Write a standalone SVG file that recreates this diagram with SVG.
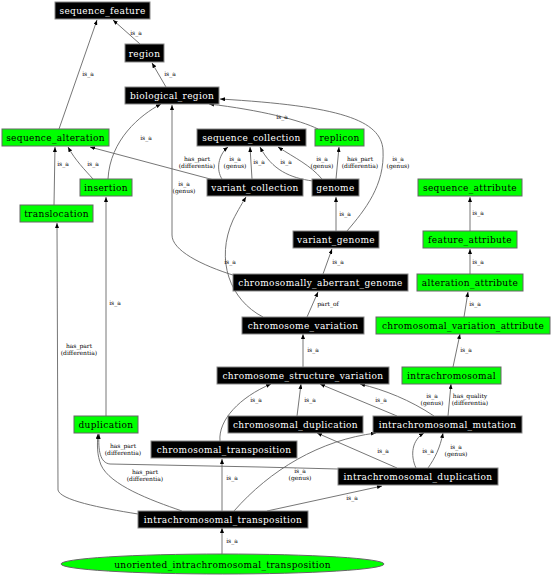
<svg xmlns="http://www.w3.org/2000/svg" width="552" height="576" viewBox="0 0 552 576">
<style>
.b rect{fill:#000;stroke:#888;stroke-width:1}
.g rect,.g ellipse{fill:#00ff00;stroke:#666;stroke-width:1}
.b text{fill:#fff}
.g text{fill:#000}
.n text{font-family:"DejaVu Serif",serif;font-size:9px;letter-spacing:0.35px;text-anchor:middle}
#edges path{fill:none;stroke:#666;stroke-width:0.9;marker-end:url(#a)}
#edges text{font-family:"DejaVu Serif",serif;font-size:6px;text-anchor:middle;fill:#000}
</style>
<defs>
<marker id="a" viewBox="0 0 5 4" refX="5" refY="2" markerWidth="5" markerHeight="4" orient="auto" markerUnits="userSpaceOnUse"><path d="M0,0 L5,2 L0,4z" fill="#000"/></marker>
</defs>
<rect width="552" height="576" fill="#fff"/>
<g id="edges">
<path d="M140,44 L113,20"/><text x="136" y="35">is_a</text>
<path d="M59,129 L97,20"/><text x="88" y="76">is_a</text>
<path d="M166,87 L152,63"/><text x="170" y="76">is_a</text>
<path d="M93,179 C85,170 75,160 68,147"/><text x="93" y="166">is_a</text>
<path d="M54,205 L55,147"/><text x="63" y="166">is_a</text>
<path d="M108,179 C110,140 140,115 161,104"/><text x="146" y="140">is_a</text>
<path d="M214,180 L90,147"/><text x="197" y="161">has_part</text><text x="197" y="168">(differentia)</text>
<path d="M222,179 C216,170 218,155 228,147"/><text x="235" y="161">is_a</text><text x="235" y="168">(genus)</text>
<path d="M252,179 L250,147"/><text x="259" y="164">is_a</text>
<path d="M313,181 C290,178 272,170 260,147"/><text x="286" y="164">is_a</text>
<path d="M322,179 C310,165 295,158 278,147"/><text x="322" y="161">is_a</text><text x="322" y="168">(genus)</text>
<path d="M336,179 L339,147"/><text x="360" y="161">has_part</text><text x="360" y="168">(differentia)</text>
<path d="M318,129 C300,120 260,110 209,104"/><text x="282" y="119">is_a</text>
<path d="M347,231 C365,210 385,185 383,150 C381,120 340,106 220,99"/><text x="398" y="161">is_a</text><text x="398" y="168">(genus)</text>
<path d="M336,231 L336,197"/><text x="345" y="216">is_a</text>
<path d="M323,274 L332,249"/><text x="338" y="264">is_a</text>
<path d="M236,276 C200,265 172,250 172,235 L172,105"/><text x="184" y="186">is_a</text><text x="184" y="193">(genus)</text>
<path d="M263,317 C230,300 215,260 233,220 C238,210 243,202 246,197"/><text x="230" y="264">is_a</text>
<path d="M307,317 L318,292"/><text x="328" y="306">part_of</text>
<path d="M303,367 L303,334"/><text x="313" y="352">is_a</text>
<path d="M470,231 L470,197"/><text x="478" y="215">is_a</text>
<path d="M470,274 L470,249"/><text x="478" y="264">is_a</text>
<path d="M464,317 L468,292"/><text x="475" y="306">is_a</text>
<path d="M453,367 L460,334"/><text x="466" y="352">is_a</text>
<path d="M448,416 L451,384"/><text x="470" y="398">has_quality</text><text x="470" y="405">(differentia)</text>
<path d="M434,416 C410,400 385,390 360,384"/><text x="432" y="398">is_a</text><text x="432" y="405">(genus)</text>
<path d="M397,416 L320,384"/><text x="381" y="402">is_a</text>
<path d="M297,416 L301,384"/><text x="310" y="402">is_a</text>
<path d="M220,441 C218,420 240,397 271,384"/><text x="256" y="402">is_a</text>
<path d="M106,416 L106,197"/><text x="115" y="305">is_a</text>
<path d="M397,468 L317,433"/><text x="383" y="453">is_a</text>
<path d="M416,468 C410,455 412,440 424,433"/><text x="428" y="453">is_a</text>
<path d="M428,468 C435,458 440,448 443,433"/><text x="456" y="449">is_a</text><text x="456" y="456">(genus)</text>
<path d="M338,469 L260,467 L110,464 C100,463 98,450 99,434"/><text x="123" y="448">has_part</text><text x="123" y="455">(differentia)</text>
<path d="M182,511 C150,500 110,485 101,465 C97,455 97,445 98,434"/><text x="145" y="474">has_part</text><text x="145" y="481">(differentia)</text>
<path d="M138,514 C100,508 60,500 58,490 L57,223"/><text x="79" y="348">has_part</text><text x="79" y="355">(differentia)</text>
<path d="M222,511 L222,459"/><text x="232" y="480">is_a</text>
<path d="M234,511 C270,470 320,440 376,433"/><text x="300" y="473">is_a</text><text x="300" y="480">(genus)</text>
<path d="M267,511 L382,486"/><text x="352" y="500">is_a</text>
<path d="M222,554 L222,528"/><text x="232" y="543">is_a</text>
</g>
<g id="sequence_feature" class="n b"><rect x="55" y="2" width="95" height="17"/><text x="102.5" y="14">sequence_feature</text></g>
<g id="region" class="n b"><rect x="125" y="44" width="39" height="18"/><text x="144.5" y="56.5">region</text></g>
<g id="biological_region" class="n b"><rect x="125" y="87" width="94" height="17"/><text x="172" y="99">biological_region</text></g>
<g id="sequence_alteration" class="n g"><rect x="2" y="129" width="107" height="17"/><text x="55.5" y="141">sequence_alteration</text></g>
<g id="sequence_collection" class="n b"><rect x="197" y="129" width="109" height="17"/><text x="251.5" y="141">sequence_collection</text></g>
<g id="replicon" class="n g"><rect x="315" y="129" width="49" height="17"/><text x="339.5" y="141">replicon</text></g>
<g id="insertion" class="n g"><rect x="80" y="179" width="52" height="17"/><text x="106" y="191">insertion</text></g>
<g id="variant_collection" class="n b"><rect x="207" y="179" width="96" height="17"/><text x="255" y="191">variant_collection</text></g>
<g id="genome" class="n b"><rect x="312" y="179" width="47" height="17"/><text x="335.5" y="191">genome</text></g>
<g id="sequence_attribute" class="n g"><rect x="418" y="179" width="104" height="17"/><text x="470" y="191">sequence_attribute</text></g>
<g id="translocation" class="n g"><rect x="20" y="205" width="73" height="17"/><text x="56.5" y="217">translocation</text></g>
<g id="variant_genome" class="n b"><rect x="293" y="231" width="86" height="17"/><text x="336" y="243">variant_genome</text></g>
<g id="feature_attribute" class="n g"><rect x="423" y="231" width="94" height="17"/><text x="470" y="243">feature_attribute</text></g>
<g id="chromosomally_aberrant_genome" class="n b"><rect x="233" y="274" width="175" height="17"/><text x="320.5" y="286">chromosomally_aberrant_genome</text></g>
<g id="alteration_attribute" class="n g"><rect x="417" y="274" width="106" height="17"/><text x="470" y="286">alteration_attribute</text></g>
<g id="chromosome_variation" class="n b"><rect x="242" y="317" width="122" height="17"/><text x="303" y="329">chromosome_variation</text></g>
<g id="chromosomal_variation_attribute" class="n g"><rect x="376" y="317" width="174" height="17"/><text x="463" y="329">chromosomal_variation_attribute</text></g>
<g id="chromosome_structure_variation" class="n b"><rect x="217" y="367" width="172" height="17"/><text x="303" y="379">chromosome_structure_variation</text></g>
<g id="intrachromosomal" class="n g"><rect x="402" y="367" width="99" height="17"/><text x="451.5" y="379">intrachromosomal</text></g>
<g id="duplication" class="n g"><rect x="74" y="416" width="64" height="17"/><text x="106" y="428">duplication</text></g>
<g id="chromosomal_duplication" class="n b"><rect x="228" y="416" width="135" height="17"/><text x="295.5" y="428">chromosomal_duplication</text></g>
<g id="intrachromosomal_mutation" class="n b"><rect x="373" y="416" width="149" height="17"/><text x="447.5" y="428">intrachromosomal_mutation</text></g>
<g id="chromosomal_transposition" class="n b"><rect x="151" y="441" width="146" height="17"/><text x="224" y="453">chromosomal_transposition</text></g>
<g id="intrachromosomal_duplication" class="n b"><rect x="338" y="468" width="160" height="17"/><text x="418" y="480">intrachromosomal_duplication</text></g>
<g id="intrachromosomal_transposition" class="n b"><rect x="138" y="511" width="170" height="17"/><text x="223" y="523">intrachromosomal_transposition</text></g>
<g id="unoriented_intrachromosomal_transposition" class="n g"><ellipse cx="222.5" cy="564" rx="161.5" ry="10"/><text x="222.5" y="567.5">unoriented_intrachromosomal_transposition</text></g>
</svg>
